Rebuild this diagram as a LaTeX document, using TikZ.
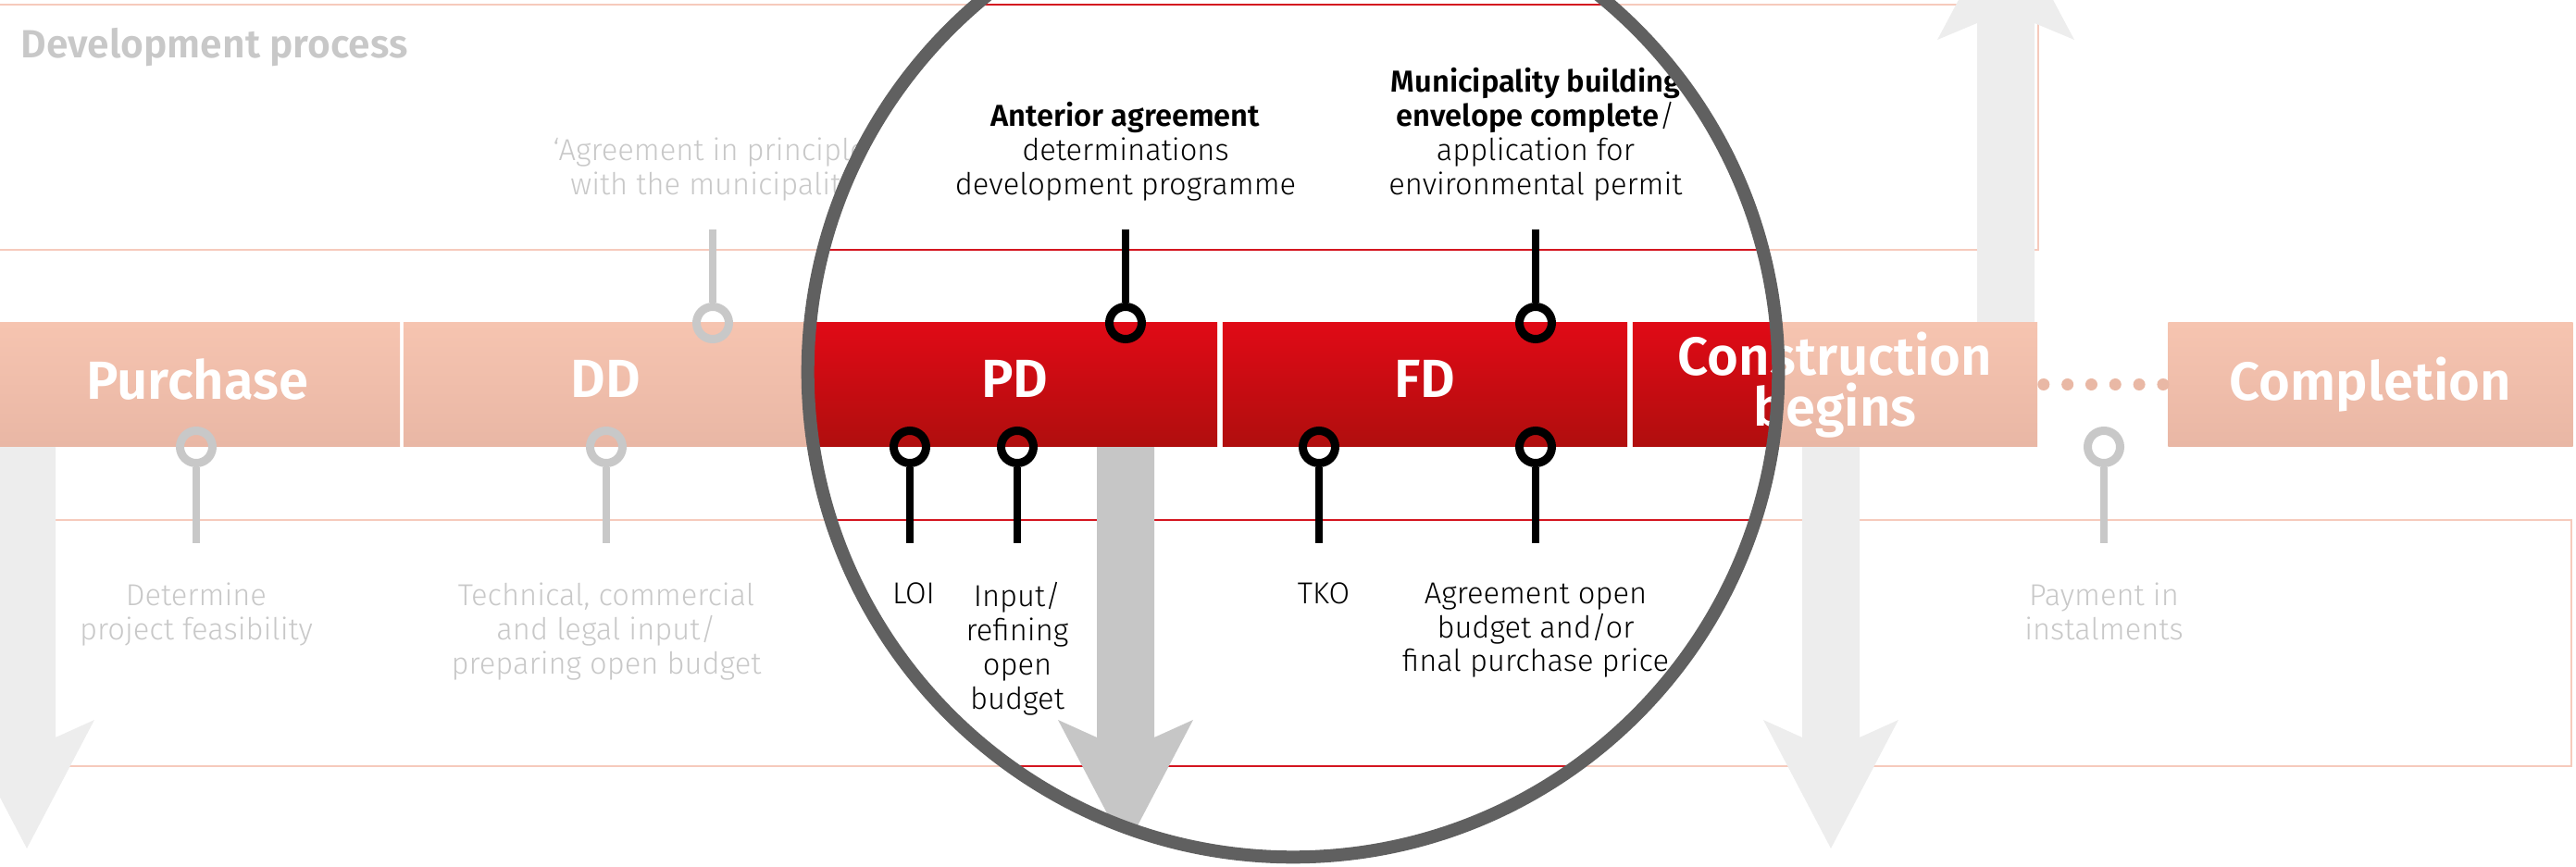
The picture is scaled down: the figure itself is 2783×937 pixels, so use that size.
\documentclass[tikz,border=0pt]{standalone}
\usepackage{fontspec}
\setmainfont{Fira Sans Light}[BoldFont={Fira Sans SemiBold}]
\usetikzlibrary{positioning}

\definecolor{salmontop}{RGB}{246,196,176}
\definecolor{salmonbot}{RGB}{233,183,165}
\definecolor{paleline}{RGB}{246,202,188}
\definecolor{redtop}{RGB}{224,10,22}
\definecolor{redbot}{RGB}{176,14,14}
\definecolor{redline}{RGB}{212,22,32}
\definecolor{palegrey}{RGB}{200,200,200}
\definecolor{arrowgrey}{RGB}{237,237,237}
\definecolor{midgrey}{RGB}{198,198,198}
\definecolor{ringgrey}{RGB}{96,96,96}
\definecolor{dotcol}{RGB}{233,184,165}

\tikzset{
  phase/.style={minimum width=4.37cm, minimum height=1.33cm, inner sep=0,
    align=center, text=white, top color=salmontop, bottom color=salmonbot,
    text depth=0.12cm, font=\bfseries\fontsize{16.5}{15.5}\selectfont},
  phaseR/.style={phase, top color=redtop, bottom color=redbot},
  pinG/.style={circle, draw=palegrey, line width=0.09cm, minimum size=0.35cm, inner sep=0},
  pinB/.style={pinG, draw=black},
  stemG/.style={draw=palegrey, line width=0.085cm},
  stemB/.style={stemG, draw=black},
  noteG/.style={align=center, inner sep=0, text=palegrey, font=\fontsize{9.3}{10.5}\selectfont},
  noteB/.style={noteG, text=black},
  paleln/.style={draw=paleline, line width=0.025cm},
  redln/.style={draw=redline, line width=0.025cm},
  dotln/.style={draw=dotcol, line width=0.13cm, line cap=round, dash pattern=on 0pt off 0.258cm},
  ringln/.style={draw=ringgrey, line width=0.14cm}
}

\newcommand\blockdown[2]{%
  \fill[#2] (#1-31,440) -- (#1+31,440) -- (#1+31,797) -- (#1+73,778) -- (#1,917)
    -- (#1-73,778) -- (#1-31,797) -- cycle;}

\begin{document}
\begin{tikzpicture}[x=0.01cm, y=-0.01cm]
\useasboundingbox (0,0) rectangle (2783,937);

% frames
\draw[paleln] (0,5) -- (2202,5) -- (2202,270) -- (0,270);
\draw[paleln] (30,562) rectangle (2778,828);

% big arrows
\blockdown{29}{arrowgrey}
\blockdown{1978}{arrowgrey}
\fill[arrowgrey] (2136,400) -- (2136,25) -- (2093,43) -- (2167,-96) -- (2241,43)
  -- (2198,25) -- (2198,400) -- cycle;

\node[anchor=base west, inner sep=0, text=palegrey, font=\bfseries\fontsize{12.1}{14}\selectfont]
  (ttl) at (22,63) {Development process};

% phases
\node[phase] (pur) at (213.5,415.5) {Purchase};
\node[phase] (dd) at (654.5,415.5) {DD};
\node[phase] (cons) at (1982.5,415.5) {Construction\\begins};
\node[phase] (comp) at (2561,415.5) {Completion};
\draw[dotln] ([xshift=0.06cm]cons.east) -- ([xshift=-0.035cm]comp.west);

% faint milestones
\node[pinG] (pAip) at (770,349) {};
\coordinate (tAip) at (770,248);
\draw[stemG] (pAip) -- (tAip);
\node[noteG, above=0.3cm of tAip] (nAip) {‘Agreement in principle’\\with the municipality};

\node[pinG] (pPur) at (212,483) {};
\coordinate (bPur) at (212,587);
\draw[stemG] (pPur) -- (bPur);
\node[noteG, below=0.42cm of bPur] (nPur) {Determine\\project feasibility};

\node[pinG] (pDd) at (655,483) {};
\coordinate (bDd) at (655,587);
\draw[stemG] (pDd) -- (bDd);
\node[noteG, below=0.42cm of bDd] (nDd) {Technical, commercial\\and legal input/\\preparing open budget};

\node[pinG] (pPay) at (2273,483) {};
\coordinate (bPay) at (2273,587);
\draw[stemG] (pPay) -- (bPay);
\node[noteG, below=0.42cm of bPay] (nPay) {Payment in\\instalments};

% magnified part
\fill[white] (1397,402) circle[radius=5.2cm];
\begin{scope}
  \clip (1397,402) circle[radius=5.2cm];
  \draw[redln] (0,5) -- (2202,5) -- (2202,270) -- (0,270);
  \draw[redln] (30,562) rectangle (2778,828);
  \blockdown{1216}{midgrey}

  \node[phaseR] (ddR) at (654.5,415.5) {DD};
  \node[phaseR] (pd) at (1096.5,415.5) {PD};
  \node[phaseR] (fd) at (1539.5,415.5) {FD};
  \node[phaseR] (consR) at (1982.5,415.5) {Construction\\begins};

  \node[pinB] (pAnt) at (1216,349) {};
  \coordinate (tAnt) at (1216,248);
  \draw[stemB] (pAnt) -- (tAnt);
  \node[noteB, above=0.3cm of tAnt] (nAnt) {\textbf{Anterior agreement}\\determinations\\development programme};

  \node[pinB] (pMun) at (1659,349) {};
  \coordinate (tMun) at (1659,248);
  \draw[stemB] (pMun) -- (tMun);
  \node[noteB, above=0.3cm of tMun] (nMun) {\textbf{Municipality building}\\\textbf{envelope complete}/\\application for\\environmental permit};

  \node[pinB] (pLoi) at (983,483) {};
  \coordinate (bLoi) at (983,587);
  \draw[stemB] (pLoi) -- (bLoi);
  \node[noteB, below=0.42cm of bLoi, xshift=0.04cm] (nLoi) {LOI};

  \node[pinB] (pInp) at (1099,483) {};
  \coordinate (bInp) at (1099,587);
  \draw[stemB] (pInp) -- (bInp);
  \node[noteB, below=0.42cm of bInp] (nInp) {Input/\\refining\\open\\budget};

  \node[pinB] (pTko) at (1425,483) {};
  \coordinate (bTko) at (1425,587);
  \draw[stemB] (pTko) -- (bTko);
  \node[noteB, below=0.42cm of bTko, xshift=0.05cm] (nTko) {TKO};

  \node[pinB] (pAgr) at (1659,483) {};
  \coordinate (bAgr) at (1659,587);
  \draw[stemB] (pAgr) -- (bAgr);
  \node[noteB, below=0.42cm of bAgr] (nAgr) {Agreement open\\budget and/or\\final purchase price};
\end{scope}
\draw[ringln] (1397,402) circle[radius=5.24cm];
\end{tikzpicture}
\end{document}
